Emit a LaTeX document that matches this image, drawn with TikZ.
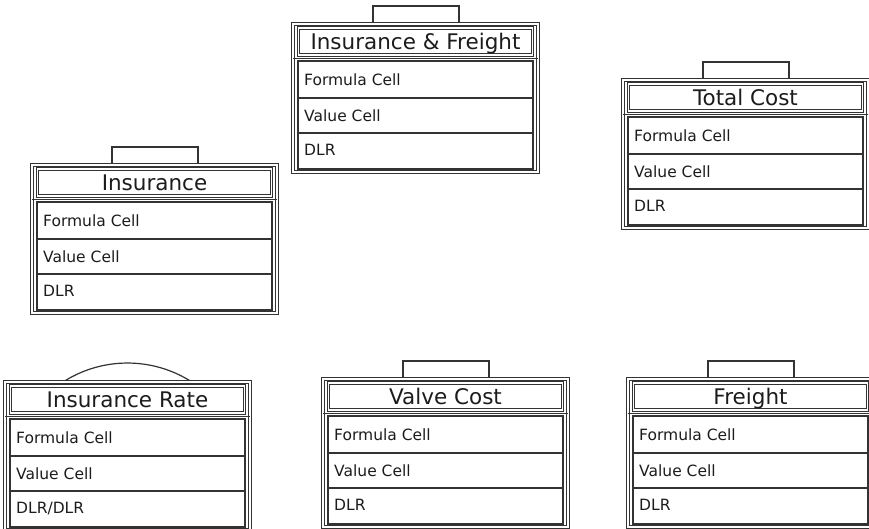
\documentclass[tikz,border=0pt]{standalone}
\usepackage{fontspec}
\setmainfont{DejaVu Sans}
\definecolor{ln}{HTML}{333333}
\definecolor{tx}{HTML}{1C1C1C}
\tikzset{
  dbl/.style={draw=ln, line width=1.05pt, double=white, double distance=1.6pt},
  sgl/.style={draw=ln, line width=1.5pt},
  tabline/.style={draw=ln, line width=1.2pt},
  titletext/.style={font=\fontsize{21.5}{25}\selectfont, text=tx, inner sep=0pt, anchor=base},
  rowtext/.style={font=\fontsize{15.5}{18}\selectfont, text=tx, inner sep=0pt, anchor=base west},
}
\newcommand\classbox[5]{%
  \begin{scope}[shift={(#2,-#3)}]
    \draw[dbl] (0,0) rectangle (245,-148);
    \draw[dbl] (5.5,-4) rectangle (239.5,-31);
    \draw[sgl] (0,-34.5) -- (245,-34.5);
    \draw[sgl] (5,-37) rectangle (240,-145);
    \draw[sgl] (5,-74) -- (240,-74);
    \draw[sgl] (5,-109) -- (240,-109);
    \node[titletext] (#1-title) at (122.5,-25.5) {#4};
    \node[rowtext] (#1-formula) at (11,-61.5) {Formula Cell};
    \node[rowtext] (#1-value) at (11,-97) {Value Cell};
    \node[rowtext] (#1-dlr) at (11,-131.5) {#5};
  \end{scope}}
\newcommand\classtab[2]{%
  \begin{scope}[shift={(#1,-#2)}]
    \draw[tabline] (80,0) -- (80,18) -- (166,18) -- (166,0);
  \end{scope}}
\begin{document}
\begin{tikzpicture}[x=1pt,y=1pt]
  \useasboundingbox[fill=white] (0,0) rectangle (869,-528);
  % tabs
  \classtab{293}{24}
  \classtab{32}{165}
  \classtab{623}{80}
  \classtab{323}{379}
  \classtab{628}{379}
  \begin{scope}[shift={(5,-382)}]
    \draw[tabline] (58,0) arc[start angle=122.8, end angle=57.2, radius=119];
  \end{scope}
  % boxes
  \classbox{insfreight}{293}{24}{Insurance \& Freight}{DLR}
  \classbox{insurance}{32}{165}{Insurance}{DLR}
  \classbox{totalcost}{623}{80}{Total Cost}{DLR}
  \classbox{insrate}{5}{382}{Insurance Rate}{DLR/DLR}
  \classbox{valvecost}{323}{379}{Valve Cost}{DLR}
  \classbox{freight}{628}{379}{Freight}{DLR}
\end{tikzpicture}
\end{document}
